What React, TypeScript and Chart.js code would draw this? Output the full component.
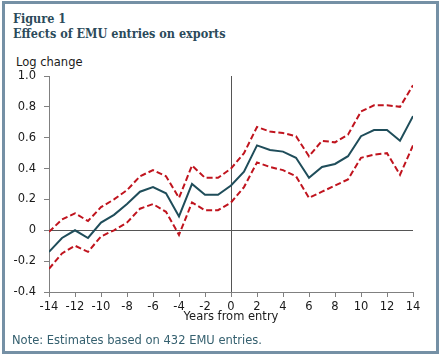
import React, { useEffect, useRef } from "react";
import { Chart, registerables } from "chart.js";

Chart.register(...registerables);

const years: number[] = [-14, -13, -12, -11, -10, -9, -8, -7, -6, -5, -4, -3, -2, -1, 0, 1, 2, 3, 4, 5, 6, 7, 8, 9, 10, 11, 12, 13, 14];
const estimate: number[] = [-0.14, -0.05, 0.0, -0.05, 0.05, 0.1, 0.17, 0.25, 0.28, 0.24, 0.09, 0.3, 0.23, 0.23, 0.29, 0.38, 0.55, 0.52, 0.51, 0.47, 0.34, 0.41, 0.43, 0.48, 0.61, 0.65, 0.65, 0.58, 0.74];
const upperBand: number[] = [-0.01, 0.07, 0.11, 0.06, 0.15, 0.2, 0.26, 0.35, 0.39, 0.35, 0.21, 0.42, 0.34, 0.34, 0.4, 0.5, 0.67, 0.64, 0.63, 0.61, 0.48, 0.58, 0.57, 0.62, 0.77, 0.81, 0.81, 0.8, 0.94];
const lowerBand: number[] = [-0.25, -0.15, -0.1, -0.14, -0.04, 0.0, 0.05, 0.14, 0.17, 0.12, -0.03, 0.18, 0.13, 0.13, 0.18, 0.28, 0.44, 0.41, 0.39, 0.35, 0.21, 0.25, 0.29, 0.33, 0.47, 0.49, 0.5, 0.36, 0.55];

const titleLines: string[] = ["Figure 1", "Effects of EMU entries on exports"];
const yAxisLabel = "Log change";
const xAxisLabel = "Years from entry";
const noteText = "Note: Estimates based on 432 EMU entries.";

const SANS = "'DejaVu Sans', Verdana, sans-serif";
const SERIF = "'DejaVu Serif Condensed', 'DejaVu Serif', Georgia, serif";

export default function App() {
  const canvasRef = useRef<HTMLCanvasElement | null>(null);

  useEffect(() => {
    if (!canvasRef.current) return;
    const toPts = (vals: number[]) => years.map((x, i) => ({ x, y: vals[i] }));
    const chart = new Chart(canvasRef.current, {
      type: "line",
      data: {
        datasets: [
          {
            label: "Estimate",
            data: toPts(estimate),
            borderColor: "#1f4d5a",
            borderWidth: 2,
            pointRadius: 0,
            tension: 0,
            order: 0,
          },
          {
            label: "Upper",
            data: toPts(upperBand),
            borderColor: "#c0141e",
            borderWidth: 2,
            borderDash: [6, 3],
            pointRadius: 0,
            tension: 0,
            order: 1,
          },
          {
            label: "Lower",
            data: toPts(lowerBand),
            borderColor: "#c0141e",
            borderWidth: 2,
            borderDash: [6, 3],
            pointRadius: 0,
            tension: 0,
            order: 1,
          },
        ],
      },
      options: {
        animation: false,
        responsive: false,
        maintainAspectRatio: false,
        layout: { padding: { left: 9, right: 29, top: 76, bottom: 34 } },
        plugins: { legend: { display: false }, tooltip: { enabled: false } },
        scales: {
          x: {
            type: "linear",
            min: -14,
            max: 14,
            afterFit: (s: any) => {
              s.height = 32;
            },
            border: { display: true, color: "#808080", width: 1 },
            grid: {
              color: (c: any) => (c.tick && c.tick.value === 0 ? "#555555" : "rgba(0,0,0,0)"),
              tickColor: "#808080",
              tickLength: 5,
              lineWidth: 1,
            },
            ticks: {
              stepSize: 2,
              color: "#1a1a1a",
              padding: 3,
              maxRotation: 0,
              autoSkip: false,
              font: { family: SANS, size: 11.5 },
              callback: (v: any) => String(v),
            },
            title: {
              display: true,
              text: xAxisLabel,
              color: "#1a1a1a",
              padding: 0,
              font: { family: SANS, size: 11.5 },
            },
          },
          y: {
            type: "linear",
            min: -0.4,
            max: 1.0,
            afterFit: (s: any) => {
              s.width = 40;
            },
            border: { display: true, color: "#808080", width: 1 },
            grid: {
              color: (c: any) => (c.tick && Math.abs(c.tick.value) < 1e-9 ? "#555555" : "rgba(0,0,0,0)"),
              tickColor: "#808080",
              tickLength: 5,
              lineWidth: 1,
            },
            ticks: {
              stepSize: 0.2,
              color: "#1a1a1a",
              padding: 8,
              font: { family: SANS, size: 11.5 },
              callback: (v: any) => (Math.abs(Number(v)) < 1e-9 ? "0" : Number(v).toFixed(1)),
            },
          },
        },
      },
    });
    return () => chart.destroy();
  }, []);

  return (
    <div
      style={{
        position: "fixed",
        left: 0,
        top: 0,
        width: 442,
        height: 358,
        background: "#ffffff",
        overflow: "hidden",
      }}
    >
      <div
        style={{
          position: "absolute",
          left: 2,
          top: 1,
          width: 437,
          height: 353,
          boxSizing: "border-box",
          border: "3px solid #7590a5",
        }}
      />
      <div
        style={{
          position: "absolute",
          left: 13,
          top: 11,
          fontFamily: SERIF,
          fontWeight: "bold",
          fontSize: 12.5,
          lineHeight: "15px",
          color: "#2b4a5a",
          whiteSpace: "nowrap",
        }}
      >
        {titleLines.map((t) => (
          <div key={t}>{t}</div>
        ))}
      </div>
      <div
        style={{
          position: "absolute",
          left: 16,
          top: 55,
          fontFamily: SANS,
          fontSize: 11.5,
          color: "#1a1a1a",
          whiteSpace: "nowrap",
        }}
      >
        {yAxisLabel}
      </div>
      <canvas
        ref={canvasRef}
        width={442}
        height={358}
        style={{ position: "absolute", left: 0, top: 0, width: 442, height: 358 }}
      />
      <div
        style={{
          position: "absolute",
          left: 12,
          top: 333,
          fontFamily: SANS,
          fontSize: 11.5,
          color: "#35606f",
          whiteSpace: "nowrap",
        }}
      >
        {noteText}
      </div>
    </div>
  );
}
